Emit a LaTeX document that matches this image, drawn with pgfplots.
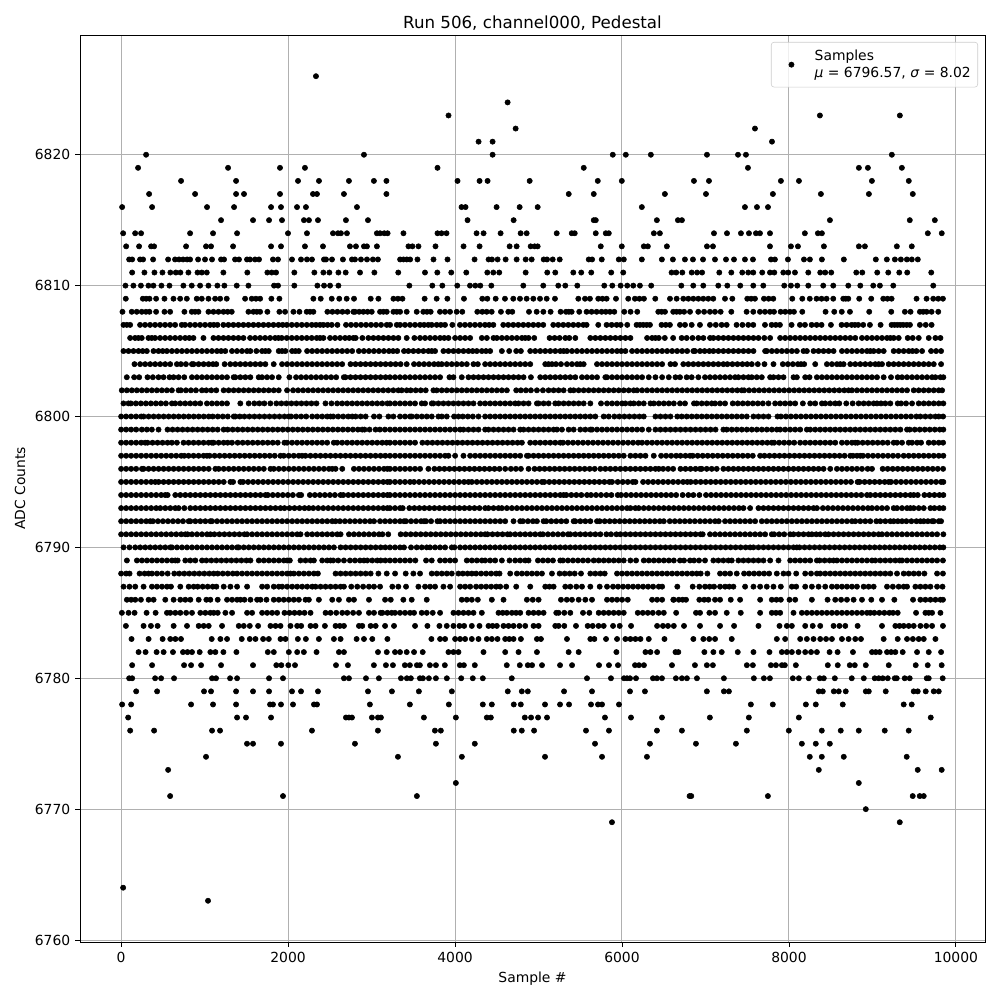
\documentclass[border=0pt]{standalone}
\usepackage{fontspec}
\setmainfont{DejaVu Sans}
\usepackage{pgfplots}
\pgfplotsset{compat=1.18}
\begin{document}
\begin{tikzpicture}
\fontsize{10bp}{12bp}\selectfont
\path[use as bounding box] (0,0) rectangle (10in,10in);
\begin{axis}[
 at={(0.80in,0.58in)},anchor=south west,scale only axis,width=9.05in,height=9.07in,
 xmin=-492.8,xmax=10349,ymin=6759.85,ymax=6829.15,
 xtick={0,2000,4000,6000,8000,10000},ytick={6760,6770,6780,6790,6800,6810,6820},
 /pgf/number format/assume math mode=true,
 /pgf/number format/1000 sep={},
 x tick label style={/pgf/number format/1000 sep={}},
 y tick label style={/pgf/number format/1000 sep={}},
 scaled ticks=false,
 tick label style={font=\fontsize{10bp}{12bp}\selectfont},
 label style={font=\fontsize{10bp}{12bp}\selectfont},
 tick pos=left,tick align=outside,major tick length=3.5bp,
 tick style={black,line width=0.6bp},
 axis line style={line width=0.6bp},
 grid=major,grid style={color=black!31,line width=0.7bp},
 title={Run 506, channel000, Pedestal},
 title style={font=\fontsize{12bp}{14bp}\selectfont,yshift=-6pt},
 xlabel={Sample \#},ylabel={ADC Counts},
 legend image code/.code={\path (0,0) (26pt,0);\fill[black,fill opacity=1] (11.4pt,0) circle (1.9pt);},
 legend style={at={(1,1)},anchor=north east,xshift=-0.07in,yshift=-0.07in,inner ysep=3.6pt,
  draw=black!20,rounded corners=2pt,fill=white,fill opacity=0.8,text opacity=1,
  nodes={align=left},font=\fontsize{10bp}{12bp}\selectfont},
 legend cell align=left,
]
\addplot[only marks,mark=*,mark size=1.9pt,mark options={draw=none,fill=black}] table {
x y
1041 6763
24 6764
5880 6769
9328 6769
8921 6770
587 6771
1939 6771
3543 6771
6810 6771
6830 6771
7748 6771
9483 6771
9567 6771
9615 6771
4010 6772
8837 6772
563 6773
8358 6773
9543 6773
9830 6773
1017 6774
3316 6774
4082 6774
5078 6774
5761 6774
6299 6774
8250 6774
8394 6774
8657 6774
9411 6774
1508 6775
1580 6775
1915 6775
2801 6775
3771 6775
4237 6775
5677 6775
6335 6775
6886 6775
7365 6775
8155 6775
8322 6775
8490 6775
108 6776
395 6776
1089 6776
1185 6776
2286 6776
3076 6776
3759 6776
3830 6776
4704 6776
4800 6776
4947 6776
5569 6776
5844 6776
6419 6776
6718 6776
7496 6776
7999 6776
8394 6776
8621 6776
8837 6776
9148 6776
9435 6776
84 6777
1389 6777
1496 6777
1796 6777
2693 6777
2729 6777
2765 6777
3004 6777
3076 6777
3112 6777
3627 6777
4010 6777
4381 6777
4429 6777
4836 6777
4911 6777
4995 6777
5102 6777
5796 6777
6108 6777
6479 6777
7053 6777
7520 6777
8119 6777
9699 6777
12 6778
120 6778
838 6778
1101 6778
1377 6778
1784 6778
1819 6778
1915 6778
2059 6778
2310 6778
2346 6778
2980 6778
3459 6778
3926 6778
4333 6778
4441 6778
4704 6778
4788 6778
5078 6778
5258 6778
5366 6778
5629 6778
5713 6778
5761 6778
5964 6778
7544 6778
7807 6778
8203 6778
8322 6778
8645 6778
9375 6778
9471 6778
180 6779
431 6779
993 6779
1077 6779
1377 6779
1580 6779
1772 6779
2047 6779
2155 6779
2358 6779
2957 6779
3244 6779
3567 6779
3962 6779
4632 6779
4800 6779
4872 6779
5306 6779
5641 6779
6096 6779
6275 6779
7017 6779
7221 6779
7281 6779
8358 6779
8406 6779
8538 6779
8597 6779
8681 6779
8921 6779
8957 6779
9160 6779
9495 6779
9543 6779
9639 6779
9735 6779
9795 6779
96 6780
132 6780
407 6780
479 6780
634 6780
1089 6780
1137 6780
1305 6780
1389 6780
1772 6780
1939 6780
2669 6780
2729 6780
2933 6780
3088 6780
3352 6780
3423 6780
3471 6780
3579 6780
3615 6780
3687 6780
3771 6780
3902 6780
4074 6780
4213 6780
4333 6780
4680 6780
5581 6780
5868 6780
6024 6780
6060 6780
6096 6780
6168 6780
6371 6780
6419 6780
6479 6780
6646 6780
6718 6780
6778 6780
6898 6780
7221 6780
7580 6780
7700 6780
7772 6780
8047 6780
8119 6780
8238 6780
8370 6780
8418 6780
8550 6780
8753 6780
8897 6780
9028 6780
9076 6780
9124 6780
9184 6780
9268 6780
9292 6780
9387 6780
9447 6780
9651 6780
9675 6780
9842 6780
132 6781
371 6781
754 6781
838 6781
958 6781
1197 6781
1580 6781
1859 6781
1919 6781
2003 6781
2083 6781
2574 6781
2717 6781
3028 6781
3172 6781
3256 6781
3399 6781
3459 6781
3543 6781
3579 6781
3699 6781
3771 6781
3878 6781
4058 6781
4106 6781
4237 6781
4620 6781
4776 6781
4872 6781
4923 6781
5042 6781
5258 6781
5402 6781
5725 6781
5844 6781
5952 6781
6156 6781
6204 6781
6263 6781
6599 6781
6874 6781
7017 6781
7089 6781
7496 6781
7568 6781
7784 6781
7844 6781
7916 6781
7951 6781
8083 6781
8466 6781
8585 6781
8729 6781
8789 6781
8921 6781
9196 6781
9519 6781
9663 6781
9830 6781
209 6782
293 6782
425 6782
509 6782
621 6782
741 6782
795 6782
849 6782
941 6782
1069 6782
1129 6782
1225 6782
1381 6782
1757 6782
1829 6782
2009 6782
2109 6782
2189 6782
2341 6782
2609 6782
2669 6782
3077 6782
3182 6782
3281 6782
3341 6782
3421 6782
3509 6782
3613 6782
3921 6782
3981 6782
4041 6782
4341 6782
4601 6782
4761 6782
4981 6782
5361 6782
5481 6782
5933 6782
6281 6782
6341 6782
6421 6782
6641 6782
6675 6782
6987 6782
7095 6782
7195 6782
7387 6782
7575 6782
7767 6782
7915 6782
7975 6782
8035 6782
8115 6782
8195 6782
8265 6782
8335 6782
8487 6782
8583 6782
8767 6782
8995 6782
9040 6782
9087 6782
9175 6782
9225 6782
9275 6782
9363 6782
9535 6782
9675 6782
9823 6782
125 6783
329 6783
497 6783
589 6783
650 6783
717 6783
1085 6783
1189 6783
1269 6783
1445 6783
1541 6783
1609 6783
1701 6783
1769 6783
1909 6783
1969 6783
2117 6783
2213 6783
2369 6783
2549 6783
2629 6783
2821 6783
2909 6783
3009 6783
3190 6783
3717 6783
3821 6783
3881 6783
4001 6783
4061 6783
4121 6783
4201 6783
4281 6783
4381 6783
4441 6783
4509 6783
4601 6783
4650 6783
4701 6783
4789 6783
4981 6783
5029 6783
5341 6783
5621 6783
5669 6783
5809 6783
5941 6783
6041 6783
6101 6783
6161 6783
6221 6783
6321 6783
6509 6783
6855 6783
6975 6783
7045 6783
7115 6783
7315 6783
7855 6783
7955 6783
8135 6783
8215 6783
8295 6783
8375 6783
8445 6783
8515 6783
8635 6783
8715 6783
8795 6783
8863 6783
9135 6783
9303 6783
9415 6783
9485 6783
9555 6783
9615 6783
9755 6783
57 6784
269 6784
357 6784
437 6784
629 6784
789 6784
929 6784
989 6784
1049 6784
1209 6784
1409 6784
1469 6784
1541 6784
1641 6784
1789 6784
1850 6784
1909 6784
2029 6784
2109 6784
2157 6784
2269 6784
2329 6784
2441 6784
2569 6784
2620 6784
2669 6784
2849 6784
2889 6784
2989 6784
3049 6784
3162 6784
3269 6784
3521 6784
3669 6784
3813 6784
3901 6784
3981 6784
4053 6784
4109 6784
4201 6784
4293 6784
4401 6784
4450 6784
4501 6784
4581 6784
4641 6784
4701 6784
4771 6784
4841 6784
4941 6784
5001 6784
5201 6784
5241 6784
5309 6784
5449 6784
5589 6784
5649 6784
5719 6784
5781 6784
5893 6784
5973 6784
6109 6784
6421 6784
6491 6784
6551 6784
6621 6784
6743 6784
6935 6784
7175 6784
7343 6784
7635 6784
7887 6784
7975 6784
8035 6784
8195 6784
8285 6784
8375 6784
8535 6784
8605 6784
8675 6784
8823 6784
9115 6784
9275 6784
9325 6784
9375 6784
9435 6784
9495 6784
9575 6784
9645 6784
9715 6784
9845 6784
9 6785
89 6785
161 6785
305 6785
413 6785
549 6785
589 6785
649 6785
709 6785
779 6785
849 6785
949 6785
1009 6785
1069 6785
1109 6785
1157 6785
1249 6785
1329 6785
1509 6785
1569 6785
1689 6785
1749 6785
1809 6785
1869 6785
1957 6785
2017 6785
2077 6785
2137 6785
2197 6785
2269 6785
2449 6785
2509 6785
2577 6785
2649 6785
2709 6785
2779 6785
2849 6785
2969 6785
3029 6785
3109 6785
3130 6785
3190 6785
3241 6785
3281 6785
3341 6785
3401 6785
3461 6785
3509 6785
3601 6785
3661 6785
3733 6785
3821 6785
3981 6785
4041 6785
4101 6785
4161 6785
4221 6785
4321 6785
4521 6785
4571 6785
4621 6785
4681 6785
4731 6785
4781 6785
4881 6785
4941 6785
5001 6785
5061 6785
5213 6785
5241 6785
5309 6785
5381 6785
5533 6785
5609 6785
5721 6785
5781 6785
5841 6785
5901 6785
5961 6785
6021 6785
6189 6785
6249 6785
6309 6785
6369 6785
6439 6785
6501 6785
6649 6785
6887 6785
6935 6785
7047 6785
7115 6785
7255 6785
7423 6785
7655 6785
7795 6785
7845 6785
7895 6785
8055 6785
8155 6785
8215 6785
8275 6785
8335 6785
8395 6785
8455 6785
8515 6785
8575 6785
8635 6785
8695 6785
8755 6785
8815 6785
8875 6785
8935 6785
8975 6785
9023 6785
9083 6785
9143 6785
9203 6785
9247 6785
9303 6785
9523 6785
9635 6785
9675 6785
9715 6785
9815 6785
69 6786
120 6786
169 6786
237 6786
329 6786
389 6786
529 6786
629 6786
709 6786
769 6786
829 6786
929 6786
1021 6786
1069 6786
1157 6786
1269 6786
1329 6786
1389 6786
1429 6786
1477 6786
1549 6786
1629 6786
1669 6786
1741 6786
1829 6786
1889 6786
1949 6786
2009 6786
2069 6786
2129 6786
2209 6786
2249 6786
2369 6786
2529 6786
2609 6786
2729 6786
2789 6786
2969 6786
3162 6786
3230 6786
3381 6786
3481 6786
3661 6786
4081 6786
4141 6786
4201 6786
4273 6786
4441 6786
4581 6786
4861 6786
4931 6786
5001 6786
5269 6786
5339 6786
5401 6786
5481 6786
5561 6786
5641 6786
5821 6786
5881 6786
5941 6786
6001 6786
6069 6786
6361 6786
6421 6786
6481 6786
6621 6786
6681 6786
6615 6786
6727 6786
6767 6786
6927 6786
6985 6786
7035 6786
7115 6786
7175 6786
7303 6786
7415 6786
7655 6786
7795 6786
7850 6786
7903 6786
8007 6786
8075 6786
8275 6786
8463 6786
8555 6786
8625 6786
8695 6786
8775 6786
8875 6786
8987 6786
9115 6786
9263 6786
9487 6786
9575 6786
9635 6786
9695 6786
9755 6786
9815 6786
9845 6786
29 6787
100 6787
169 6787
269 6787
369 6787
429 6787
489 6787
549 6787
597 6787
709 6787
809 6787
869 6787
917 6787
977 6787
1037 6787
1097 6787
1141 6787
1229 6787
1309 6787
1389 6787
1509 6787
1689 6787
1749 6787
1829 6787
1889 6787
1929 6787
1989 6787
2049 6787
2109 6787
2169 6787
2229 6787
2289 6787
2329 6787
2389 6787
2449 6787
2509 6787
2569 6787
2629 6787
2669 6787
2757 6787
2829 6787
2899 6787
2969 6787
3029 6787
3102 6787
3249 6787
3321 6787
3413 6787
3561 6787
3641 6787
3701 6787
3761 6787
3861 6787
3941 6787
4061 6787
4121 6787
4181 6787
4253 6787
4313 6787
4373 6787
4433 6787
4493 6787
4541 6787
4613 6787
4733 6787
4901 6787
5081 6787
5131 6787
5181 6787
5321 6787
5381 6787
5453 6787
5521 6787
5621 6787
5733 6787
5821 6787
5893 6787
5953 6787
6013 6787
6073 6787
6133 6787
6193 6787
6253 6787
6313 6787
6373 6787
6441 6787
6481 6787
6663 6787
6847 6787
6927 6787
6995 6787
7050 6787
7103 6787
7175 6787
7235 6787
7285 6787
7335 6787
7475 6787
7575 6787
7655 6787
7735 6787
7815 6787
7903 6787
8035 6787
8087 6787
8195 6787
8275 6787
8355 6787
8435 6787
8515 6787
8575 6787
8635 6787
8695 6787
8755 6787
8815 6787
8895 6787
8955 6787
9015 6787
9175 6787
9245 6787
9315 6787
9375 6787
9415 6787
9515 6787
9575 6787
9635 6787
9695 6787
9775 6787
9840 6787
0 6788
60 6788
101 6788
221 6788
281 6788
329 6788
369 6788
429 6788
489 6788
557 6788
637 6788
697 6788
757 6788
817 6788
877 6788
937 6788
997 6788
1057 6788
1109 6788
1157 6788
1217 6788
1277 6788
1337 6788
1389 6788
1449 6788
1509 6788
1569 6788
1629 6788
1689 6788
1749 6788
1809 6788
1869 6788
1929 6788
1989 6788
2029 6788
2069 6788
2129 6788
2189 6788
2249 6788
2309 6788
2357 6788
2569 6788
2629 6788
2689 6788
2749 6788
2809 6788
2869 6788
2929 6788
2989 6788
3082 6788
3182 6788
3282 6788
3409 6788
3501 6788
3581 6788
3721 6788
3781 6788
3841 6788
3901 6788
3961 6788
4041 6788
4093 6788
4150 6788
4201 6788
4253 6788
4313 6788
4373 6788
4433 6788
4493 6788
4533 6788
4661 6788
4741 6788
4801 6788
4861 6788
4921 6788
4981 6788
5041 6788
5161 6788
5253 6788
5313 6788
5373 6788
5433 6788
5509 6788
5621 6788
5681 6788
5741 6788
5793 6788
5941 6788
6001 6788
6061 6788
6121 6788
6181 6788
6241 6788
6301 6788
6361 6788
6421 6788
6481 6788
6541 6788
6601 6788
6661 6788
6721 6788
6781 6788
6841 6788
6895 6788
6943 6788
7023 6788
7175 6788
7235 6788
7295 6788
7375 6788
7463 6788
7523 6788
7583 6788
7643 6788
7703 6788
7763 6788
7855 6788
7935 6788
7995 6788
8087 6788
8195 6788
8265 6788
8335 6788
8375 6788
8435 6788
8495 6788
8555 6788
8615 6788
8675 6788
8735 6788
8795 6788
8855 6788
8915 6788
8975 6788
9035 6788
9095 6788
9155 6788
9215 6788
9295 6788
9375 6788
9435 6788
9495 6788
9555 6788
9623 6788
9775 6788
9845 6788
69 6789
189 6789
249 6789
309 6789
369 6789
429 6789
489 6789
549 6789
609 6789
649 6789
677 6789
769 6789
829 6789
889 6789
969 6789
1021 6789
1081 6789
1141 6789
1201 6789
1261 6789
1321 6789
1381 6789
1441 6789
1501 6789
1549 6789
1649 6789
1709 6789
1769 6789
1829 6789
1889 6789
1949 6789
1989 6789
2021 6789
2149 6789
2209 6789
2269 6789
2309 6789
2409 6789
2469 6789
2509 6789
2541 6789
2601 6789
2669 6789
2741 6789
2801 6789
2861 6789
2909 6789
2949 6789
3009 6789
3069 6789
3109 6789
3165 6789
3221 6789
3281 6789
3341 6789
3401 6789
3461 6789
3525 6789
3653 6789
3721 6789
3821 6789
3881 6789
3941 6789
4001 6789
4141 6789
4201 6789
4261 6789
4321 6789
4361 6789
4421 6789
4481 6789
4561 6789
4653 6789
4721 6789
4781 6789
4841 6789
4881 6789
4993 6789
5053 6789
5113 6789
5173 6789
5261 6789
5293 6789
5353 6789
5413 6789
5473 6789
5533 6789
5593 6789
5661 6789
5721 6789
5781 6789
5841 6789
5901 6789
5961 6789
6021 6789
6101 6789
6169 6789
6261 6789
6321 6789
6381 6789
6441 6789
6501 6789
6561 6789
6621 6789
6695 6789
6743 6789
6815 6789
6863 6789
6923 6789
6995 6789
7095 6789
7155 6789
7215 6789
7275 6789
7315 6789
7395 6789
7455 6789
7515 6789
7575 6789
7635 6789
7695 6789
7775 6789
7875 6789
8015 6789
8075 6789
8135 6789
8195 6789
8255 6789
8335 6789
8367 6789
8427 6789
8487 6789
8535 6789
8575 6789
8635 6789
8695 6789
8755 6789
8815 6789
8875 6789
8935 6789
8995 6789
9035 6789
9095 6789
9155 6789
9215 6789
9275 6789
9327 6789
9355 6789
9415 6789
9475 6789
9535 6789
9595 6789
9655 6789
9715 6789
9775 6789
9845 6789
29 6790
100 6790
169 6790
229 6790
289 6790
349 6790
409 6790
469 6790
529 6790
589 6790
609 6790
669 6790
729 6790
789 6790
849 6790
909 6790
969 6790
1029 6790
1089 6790
1149 6790
1209 6790
1269 6790
1329 6790
1389 6790
1409 6790
1469 6790
1529 6790
1589 6790
1649 6790
1709 6790
1769 6790
1829 6790
1889 6790
1949 6790
2009 6790
2069 6790
2129 6790
2189 6790
2249 6790
2309 6790
2369 6790
2429 6790
2489 6790
2549 6790
2629 6790
2689 6790
2749 6790
2809 6790
2869 6790
2929 6790
2989 6790
3049 6790
3109 6790
3165 6790
3221 6790
3281 6790
3341 6790
3389 6790
3473 6790
3541 6790
3601 6790
3661 6790
3701 6790
3761 6790
3821 6790
3881 6790
3961 6790
3993 6790
4061 6790
4121 6790
4181 6790
4241 6790
4301 6790
4361 6790
4421 6790
4481 6790
4541 6790
4601 6790
4661 6790
4721 6790
4781 6790
4841 6790
4901 6790
4961 6790
5021 6790
5081 6790
5141 6790
5201 6790
5261 6790
5321 6790
5381 6790
5441 6790
5501 6790
5561 6790
5621 6790
5681 6790
5741 6790
5801 6790
5861 6790
5921 6790
5981 6790
6041 6790
6101 6790
6161 6790
6221 6790
6281 6790
6341 6790
6401 6790
6461 6790
6521 6790
6581 6790
6641 6790
6701 6790
6761 6790
6821 6790
6881 6790
6941 6790
7001 6790
7061 6790
7121 6790
7181 6790
7241 6790
7301 6790
7361 6790
7421 6790
7481 6790
7535 6790
7575 6790
7635 6790
7695 6790
7755 6790
7815 6790
7875 6790
7935 6790
7995 6790
8055 6790
8095 6790
8127 6790
8187 6790
8247 6790
8307 6790
8367 6790
8427 6790
8487 6790
8547 6790
8607 6790
8667 6790
8727 6790
8787 6790
8847 6790
8907 6790
8967 6790
9027 6790
9087 6790
9147 6790
9207 6790
9267 6790
9327 6790
9387 6790
9447 6790
9507 6790
9567 6790
9627 6790
9687 6790
9747 6790
9807 6790
9850 6790
0 6791
60 6791
120 6791
180 6791
240 6791
300 6791
360 6791
420 6791
480 6791
540 6791
600 6791
660 6791
720 6791
769 6791
797 6791
849 6791
909 6791
969 6791
1029 6791
1069 6791
1117 6791
1177 6791
1237 6791
1297 6791
1357 6791
1417 6791
1477 6791
1509 6791
1569 6791
1629 6791
1689 6791
1749 6791
1809 6791
1869 6791
1929 6791
1989 6791
2049 6791
2109 6791
2149 6791
2229 6791
2289 6791
2349 6791
2409 6791
2469 6791
2529 6791
2589 6791
2629 6791
2729 6791
2789 6791
2849 6791
2909 6791
2969 6791
3029 6791
3089 6791
3130 6791
3200 6791
3349 6791
3409 6791
3469 6791
3529 6791
3589 6791
3649 6791
3709 6791
3769 6791
3829 6791
3889 6791
3949 6791
4009 6791
4069 6791
4129 6791
4189 6791
4249 6791
4309 6791
4361 6791
4389 6791
4449 6791
4509 6791
4569 6791
4629 6791
4661 6791
4721 6791
4781 6791
4841 6791
4901 6791
4961 6791
5021 6791
5053 6791
5113 6791
5173 6791
5233 6791
5293 6791
5353 6791
5381 6791
5441 6791
5501 6791
5561 6791
5621 6791
5681 6791
5741 6791
5813 6791
5869 6791
5933 6791
5981 6791
6041 6791
6101 6791
6161 6791
6221 6791
6281 6791
6341 6791
6401 6791
6461 6791
6521 6791
6581 6791
6641 6791
6701 6791
6761 6791
6821 6791
6881 6791
6941 6791
6967 6791
7055 6791
7115 6791
7175 6791
7235 6791
7295 6791
7355 6791
7415 6791
7475 6791
7535 6791
7595 6791
7655 6791
7715 6791
7795 6791
7823 6791
7883 6791
7943 6791
8015 6791
8055 6791
8115 6791
8175 6791
8235 6791
8275 6791
8327 6791
8375 6791
8435 6791
8475 6791
8535 6791
8595 6791
8655 6791
8715 6791
8775 6791
8835 6791
8895 6791
8955 6791
9015 6791
9075 6791
9115 6791
9175 6791
9235 6791
9295 6791
9355 6791
9415 6791
9475 6791
9535 6791
9595 6791
9655 6791
9715 6791
9775 6791
9850 6791
0 6792
60 6792
120 6792
180 6792
240 6792
300 6792
349 6792
381 6792
441 6792
501 6792
561 6792
621 6792
681 6792
741 6792
809 6792
829 6792
889 6792
949 6792
1009 6792
1069 6792
1089 6792
1149 6792
1209 6792
1269 6792
1329 6792
1389 6792
1449 6792
1509 6792
1569 6792
1629 6792
1689 6792
1749 6792
1809 6792
1869 6792
1929 6792
1989 6792
2049 6792
2109 6792
2169 6792
2229 6792
2289 6792
2349 6792
2409 6792
2469 6792
2529 6792
2569 6792
2621 6792
2681 6792
2741 6792
2801 6792
2861 6792
2921 6792
2981 6792
3029 6792
3102 6792
3162 6792
3221 6792
3281 6792
3341 6792
3389 6792
3413 6792
3473 6792
3533 6792
3593 6792
3629 6792
3653 6792
3713 6792
3789 6792
3821 6792
3881 6792
3941 6792
4001 6792
4061 6792
4121 6792
4181 6792
4241 6792
4301 6792
4361 6792
4421 6792
4481 6792
4541 6792
4601 6792
4701 6792
4781 6792
4813 6792
4873 6792
4933 6792
4981 6792
5061 6792
5093 6792
5153 6792
5213 6792
5273 6792
5333 6792
5421 6792
5441 6792
5501 6792
5561 6792
5621 6792
5701 6792
5733 6792
5793 6792
5853 6792
5913 6792
5973 6792
6033 6792
6093 6792
6153 6792
6213 6792
6273 6792
6333 6792
6393 6792
6453 6792
6501 6792
6573 6792
6633 6792
6693 6792
6753 6792
6813 6792
6873 6792
6935 6792
6995 6792
7055 6792
7115 6792
7159 6792
7235 6792
7295 6792
7355 6792
7415 6792
7475 6792
7535 6792
7595 6792
7675 6792
7735 6792
7795 6792
7855 6792
7915 6792
7975 6792
8035 6792
8095 6792
8155 6792
8215 6792
8275 6792
8335 6792
8395 6792
8455 6792
8515 6792
8575 6792
8635 6792
8695 6792
8755 6792
8795 6792
8855 6792
8915 6792
8975 6792
9047 6792
9095 6792
9155 6792
9215 6792
9255 6792
9305 6792
9355 6792
9407 6792
9467 6792
9527 6792
9575 6792
9615 6792
9665 6792
9715 6792
9735 6792
9795 6792
9823 6792
0 6793
60 6793
120 6793
180 6793
240 6793
300 6793
360 6793
420 6793
469 6793
529 6793
589 6793
649 6793
689 6793
757 6793
829 6793
889 6793
949 6793
1009 6793
1069 6793
1129 6793
1189 6793
1249 6793
1309 6793
1369 6793
1429 6793
1489 6793
1549 6793
1609 6793
1669 6793
1729 6793
1789 6793
1849 6793
1909 6793
1957 6793
2017 6793
2077 6793
2137 6793
2197 6793
2249 6793
2301 6793
2361 6793
2421 6793
2481 6793
2541 6793
2601 6793
2661 6793
2721 6793
2781 6793
2841 6793
2901 6793
2961 6793
3021 6793
3081 6793
3141 6793
3190 6793
3221 6793
3281 6793
3341 6793
3373 6793
3453 6793
3513 6793
3573 6793
3633 6793
3693 6793
3753 6793
3813 6793
3873 6793
3933 6793
3993 6793
4053 6793
4113 6793
4173 6793
4233 6793
4293 6793
4361 6793
4401 6793
4461 6793
4521 6793
4561 6793
4621 6793
4681 6793
4741 6793
4801 6793
4861 6793
4921 6793
4981 6793
5041 6793
5101 6793
5161 6793
5221 6793
5281 6793
5341 6793
5401 6793
5461 6793
5521 6793
5581 6793
5641 6793
5701 6793
5761 6793
5821 6793
5881 6793
5941 6793
6001 6793
6061 6793
6101 6793
6161 6793
6201 6793
6261 6793
6321 6793
6381 6793
6441 6793
6501 6793
6561 6793
6621 6793
6681 6793
6741 6793
6801 6793
6861 6793
6921 6793
6981 6793
7041 6793
7101 6793
7161 6793
7221 6793
7281 6793
7341 6793
7401 6793
7455 6793
7535 6793
7635 6793
7695 6793
7755 6793
7815 6793
7875 6793
7935 6793
7995 6793
8055 6793
8115 6793
8175 6793
8235 6793
8295 6793
8335 6793
8407 6793
8467 6793
8527 6793
8587 6793
8647 6793
8707 6793
8767 6793
8827 6793
8887 6793
8947 6793
8995 6793
9055 6793
9115 6793
9175 6793
9255 6793
9295 6793
9355 6793
9415 6793
9455 6793
9495 6793
9555 6793
9615 6793
9695 6793
9743 6793
9803 6793
9850 6793
0 6794
60 6794
120 6794
180 6794
240 6794
300 6794
360 6794
420 6794
480 6794
529 6794
557 6794
649 6794
709 6794
769 6794
829 6794
889 6794
949 6794
1009 6794
1069 6794
1129 6794
1189 6794
1249 6794
1309 6794
1369 6794
1429 6794
1489 6794
1549 6794
1609 6794
1669 6794
1729 6794
1757 6794
1817 6794
1877 6794
1937 6794
1997 6794
2057 6794
2129 6794
2157 6794
2261 6794
2321 6794
2381 6794
2441 6794
2501 6794
2561 6794
2629 6794
2661 6794
2721 6794
2781 6794
2841 6794
2901 6794
2961 6794
3021 6794
3081 6794
3141 6794
3190 6794
3221 6794
3281 6794
3341 6794
3401 6794
3461 6794
3521 6794
3581 6794
3641 6794
3701 6794
3761 6794
3821 6794
3881 6794
3941 6794
4001 6794
4061 6794
4121 6794
4181 6794
4241 6794
4301 6794
4361 6794
4421 6794
4481 6794
4541 6794
4601 6794
4661 6794
4721 6794
4781 6794
4841 6794
4901 6794
4961 6794
5021 6794
5081 6794
5141 6794
5201 6794
5261 6794
5301 6794
5333 6794
5393 6794
5453 6794
5513 6794
5581 6794
5629 6794
5689 6794
5749 6794
5813 6794
5873 6794
5949 6794
5989 6794
6049 6794
6109 6794
6169 6794
6229 6794
6289 6794
6349 6794
6409 6794
6469 6794
6529 6794
6589 6794
6649 6794
6727 6794
6795 6794
6855 6794
6927 6794
7007 6794
7067 6794
7127 6794
7187 6794
7247 6794
7307 6794
7367 6794
7427 6794
7487 6794
7547 6794
7607 6794
7667 6794
7727 6794
7787 6794
7847 6794
7907 6794
7967 6794
8027 6794
8087 6794
8147 6794
8207 6794
8267 6794
8327 6794
8387 6794
8447 6794
8507 6794
8567 6794
8627 6794
8687 6794
8747 6794
8807 6794
8867 6794
8935 6794
8975 6794
9035 6794
9095 6794
9155 6794
9215 6794
9275 6794
9335 6794
9395 6794
9455 6794
9495 6794
9543 6794
9623 6794
9683 6794
9743 6794
9803 6794
9850 6794
0 6795
60 6795
120 6795
180 6795
240 6795
300 6795
360 6795
409 6795
449 6795
509 6795
569 6795
629 6795
689 6795
749 6795
809 6795
869 6795
929 6795
989 6795
1049 6795
1109 6795
1169 6795
1229 6795
1309 6795
1341 6795
1429 6795
1461 6795
1521 6795
1581 6795
1641 6795
1701 6795
1761 6795
1821 6795
1881 6795
1941 6795
2001 6795
2061 6795
2121 6795
2181 6795
2241 6795
2301 6795
2361 6795
2421 6795
2481 6795
2541 6795
2601 6795
2661 6795
2721 6795
2781 6795
2841 6795
2901 6795
2961 6795
3021 6795
3081 6795
3141 6795
3190 6795
3221 6795
3281 6795
3341 6795
3401 6795
3461 6795
3509 6795
3569 6795
3629 6795
3689 6795
3749 6795
3809 6795
3869 6795
3929 6795
3989 6795
4049 6795
4109 6795
4161 6795
4201 6795
4261 6795
4321 6795
4381 6795
4441 6795
4501 6795
4561 6795
4621 6795
4681 6795
4741 6795
4801 6795
4861 6795
4921 6795
4981 6795
5041 6795
5069 6795
5129 6795
5189 6795
5249 6795
5309 6795
5369 6795
5429 6795
5489 6795
5549 6795
5609 6795
5669 6795
5729 6795
5789 6795
5849 6795
5881 6795
5949 6795
6009 6795
6069 6795
6129 6795
6161 6795
6253 6795
6313 6795
6373 6795
6433 6795
6493 6795
6553 6795
6613 6795
6673 6795
6733 6795
6783 6795
6823 6795
6883 6795
6943 6795
7003 6795
7063 6795
7123 6795
7183 6795
7243 6795
7303 6795
7363 6795
7423 6795
7483 6795
7543 6795
7603 6795
7663 6795
7723 6795
7783 6795
7843 6795
7903 6795
7963 6795
8023 6795
8083 6795
8143 6795
8203 6795
8263 6795
8323 6795
8383 6795
8443 6795
8503 6795
8563 6795
8623 6795
8683 6795
8743 6795
8823 6795
8847 6795
8907 6795
8967 6795
9027 6795
9087 6795
9147 6795
9195 6795
9223 6795
9283 6795
9343 6795
9403 6795
9463 6795
9523 6795
9583 6795
9643 6795
9703 6795
9763 6795
9823 6795
9850 6795
0 6796
60 6796
120 6796
180 6796
249 6796
269 6796
329 6796
389 6796
449 6796
509 6796
569 6796
629 6796
689 6796
749 6796
809 6796
869 6796
929 6796
989 6796
1049 6796
1129 6796
1169 6796
1229 6796
1289 6796
1349 6796
1409 6796
1469 6796
1529 6796
1589 6796
1649 6796
1709 6796
1789 6796
1829 6796
1889 6796
1949 6796
2009 6796
2069 6796
2129 6796
2189 6796
2249 6796
2309 6796
2369 6796
2429 6796
2489 6796
2529 6796
2569 6796
2649 6796
2789 6796
2849 6796
2909 6796
2969 6796
3029 6796
3089 6796
3149 6796
3190 6796
3221 6796
3281 6796
3341 6796
3401 6796
3461 6796
3521 6796
3581 6796
3681 6796
3753 6796
3813 6796
3873 6796
3933 6796
3993 6796
4053 6796
4113 6796
4173 6796
4233 6796
4293 6796
4353 6796
4413 6796
4473 6796
4533 6796
4601 6796
4669 6796
4729 6796
4789 6796
4881 6796
4953 6796
5013 6796
5073 6796
5133 6796
5193 6796
5253 6796
5313 6796
5373 6796
5433 6796
5493 6796
5553 6796
5613 6796
5673 6796
5741 6796
5801 6796
5861 6796
5921 6796
5981 6796
6041 6796
6101 6796
6161 6796
6221 6796
6281 6796
6341 6796
6401 6796
6441 6796
6493 6796
6553 6796
6613 6796
6701 6796
6761 6796
6821 6796
6881 6796
6935 6796
6955 6796
7015 6796
7075 6796
7135 6796
7215 6796
7275 6796
7335 6796
7395 6796
7455 6796
7515 6796
7575 6796
7635 6796
7695 6796
7755 6796
7815 6796
7875 6796
7935 6796
7995 6796
8055 6796
8115 6796
8175 6796
8235 6796
8295 6796
8355 6796
8415 6796
8495 6796
8575 6796
8635 6796
8695 6796
8755 6796
8815 6796
8875 6796
8943 6796
8995 6796
9123 6796
9183 6796
9243 6796
9303 6796
9363 6796
9423 6796
9483 6796
9543 6796
9603 6796
9663 6796
9723 6796
9783 6796
9847 6796
0 6797
60 6797
120 6797
180 6797
240 6797
300 6797
360 6797
420 6797
480 6797
540 6797
600 6797
660 6797
720 6797
756 6797
808 6797
868 6797
928 6797
988 6797
1028 6797
1060 6797
1120 6797
1180 6797
1240 6797
1300 6797
1360 6797
1420 6797
1480 6797
1540 6797
1600 6797
1660 6797
1720 6797
1780 6797
1840 6797
1908 6797
1948 6797
2008 6797
2068 6797
2128 6797
2168 6797
2208 6797
2268 6797
2328 6797
2388 6797
2448 6797
2508 6797
2568 6797
2628 6797
2688 6797
2748 6797
2808 6797
2868 6797
2928 6797
2988 6797
3048 6797
3108 6797
3165 6797
3221 6797
3281 6797
3341 6797
3401 6797
3461 6797
3521 6797
3581 6797
3641 6797
3701 6797
3761 6797
3821 6797
3881 6797
3921 6797
4001 6797
4101 6797
4181 6797
4241 6797
4301 6797
4361 6797
4421 6797
4481 6797
4541 6797
4601 6797
4661 6797
4721 6797
4781 6797
4861 6797
4881 6797
4941 6797
5001 6797
5061 6797
5121 6797
5181 6797
5241 6797
5301 6797
5361 6797
5421 6797
5481 6797
5541 6797
5601 6797
5661 6797
5721 6797
5781 6797
5841 6797
5901 6797
5961 6797
6021 6797
6101 6797
6161 6797
6221 6797
6281 6797
6381 6797
6469 6797
6529 6797
6589 6797
6649 6797
6701 6797
6761 6797
6815 6797
6847 6797
6907 6797
6967 6797
7027 6797
7087 6797
7147 6797
7207 6797
7267 6797
7327 6797
7387 6797
7447 6797
7507 6797
7567 6797
7655 6797
7707 6797
7767 6797
7827 6797
7887 6797
7947 6797
8007 6797
8067 6797
8127 6797
8187 6797
8247 6797
8307 6797
8367 6797
8427 6797
8487 6797
8547 6797
8607 6797
8667 6797
8735 6797
8767 6797
8815 6797
8855 6797
8887 6797
8947 6797
9007 6797
9067 6797
9127 6797
9187 6797
9247 6797
9307 6797
9375 6797
9435 6797
9495 6797
9555 6797
9615 6797
9675 6797
9735 6797
9795 6797
9850 6797
0 6798
60 6798
120 6798
180 6798
240 6798
288 6798
316 6798
376 6798
436 6798
496 6798
556 6798
608 6798
668 6798
748 6798
808 6798
868 6798
928 6798
988 6798
1048 6798
1088 6798
1108 6798
1168 6798
1228 6798
1276 6798
1328 6798
1396 6798
1456 6798
1516 6798
1576 6798
1636 6798
1696 6798
1756 6798
1816 6798
1876 6798
1956 6798
1988 6798
2048 6798
2108 6798
2168 6798
2228 6798
2288 6798
2348 6798
2408 6798
2468 6798
2548 6798
2588 6798
2648 6798
2708 6798
2768 6798
2828 6798
2888 6798
2948 6798
3008 6798
3068 6798
3128 6798
3180 6798
3221 6798
3281 6798
3341 6798
3401 6798
3461 6798
3521 6798
3609 6798
3669 6798
3729 6798
3789 6798
3849 6798
3909 6798
3969 6798
4029 6798
4089 6798
4149 6798
4209 6798
4269 6798
4329 6798
4389 6798
4449 6798
4509 6798
4569 6798
4629 6798
4689 6798
4749 6798
4801 6798
4901 6798
4961 6798
5021 6798
5081 6798
5141 6798
5201 6798
5261 6798
5293 6798
5353 6798
5413 6798
5473 6798
5533 6798
5593 6798
5653 6798
5713 6798
5773 6798
5833 6798
5893 6798
5953 6798
6013 6798
6073 6798
6133 6798
6193 6798
6241 6798
6301 6798
6361 6798
6421 6798
6481 6798
6541 6798
6601 6798
6661 6798
6721 6798
6781 6798
6841 6798
6901 6798
6961 6798
7021 6798
7081 6798
7141 6798
7201 6798
7261 6798
7321 6798
7381 6798
7441 6798
7501 6798
7561 6798
7621 6798
7681 6798
7741 6798
7795 6798
7823 6798
7883 6798
7943 6798
8003 6798
8063 6798
8135 6798
8195 6798
8255 6798
8315 6798
8375 6798
8435 6798
8495 6798
8555 6798
8635 6798
8695 6798
8755 6798
8795 6798
8823 6798
8883 6798
8943 6798
9003 6798
9063 6798
9123 6798
9183 6798
9255 6798
9295 6798
9355 6798
9435 6798
9475 6798
9535 6798
9583 6798
9675 6798
9735 6798
9795 6798
9847 6798
0 6799
60 6799
120 6799
180 6799
248 6799
308 6799
368 6799
448 6799
556 6799
616 6799
676 6799
736 6799
796 6799
856 6799
916 6799
976 6799
1036 6799
1096 6799
1156 6799
1228 6799
1276 6799
1336 6799
1396 6799
1456 6799
1516 6799
1576 6799
1636 6799
1696 6799
1756 6799
1816 6799
1876 6799
1936 6799
1996 6799
2056 6799
2116 6799
2176 6799
2236 6799
2296 6799
2356 6799
2416 6799
2476 6799
2536 6799
2596 6799
2656 6799
2716 6799
2776 6799
2836 6799
2888 6799
2916 6799
2976 6799
3048 6799
3100 6799
3160 6799
3221 6799
3281 6799
3341 6799
3401 6799
3461 6799
3521 6799
3581 6799
3641 6799
3701 6799
3761 6799
3821 6799
3881 6799
3941 6799
4001 6799
4061 6799
4101 6799
4161 6799
4221 6799
4281 6799
4361 6799
4401 6799
4461 6799
4521 6799
4581 6799
4641 6799
4701 6799
4781 6799
4821 6799
4881 6799
4941 6799
5001 6799
5061 6799
5121 6799
5181 6799
5221 6799
5281 6799
5361 6799
5421 6799
5501 6799
5561 6799
5621 6799
5641 6799
5701 6799
5761 6799
5821 6799
5881 6799
5941 6799
6001 6799
6061 6799
6121 6799
6181 6799
6241 6799
6321 6799
6401 6799
6461 6799
6521 6799
6581 6799
6641 6799
6701 6799
6761 6799
6821 6799
6881 6799
6941 6799
7001 6799
7061 6799
7121 6799
7215 6799
7255 6799
7315 6799
7375 6799
7435 6799
7495 6799
7555 6799
7615 6799
7675 6799
7735 6799
7795 6799
7855 6799
7895 6799
7955 6799
8015 6799
8075 6799
8135 6799
8215 6799
8255 6799
8315 6799
8375 6799
8435 6799
8495 6799
8555 6799
8615 6799
8675 6799
8735 6799
8795 6799
8855 6799
8915 6799
8975 6799
9035 6799
9095 6799
9155 6799
9215 6799
9275 6799
9335 6799
9415 6799
9447 6799
9507 6799
9567 6799
9627 6799
9687 6799
9747 6799
9807 6799
9850 6799
0 6800
60 6800
120 6800
180 6800
241 6800
269 6800
329 6800
389 6800
449 6800
509 6800
569 6800
629 6800
689 6800
749 6800
809 6800
869 6800
929 6800
989 6800
1049 6800
1097 6800
1157 6800
1217 6800
1277 6800
1349 6800
1369 6800
1421 6800
1477 6800
1537 6800
1597 6800
1657 6800
1717 6800
1777 6800
1837 6800
1897 6800
1957 6800
2009 6800
2037 6800
2097 6800
2157 6800
2217 6800
2289 6800
2349 6800
2409 6800
2469 6800
2509 6800
2541 6800
2601 6800
2661 6800
2721 6800
2769 6800
2809 6800
2869 6800
2929 6800
3029 6800
3094 6800
3202 6800
3262 6800
3341 6800
3401 6800
3461 6800
3481 6800
3541 6800
3601 6800
3661 6800
3721 6800
3801 6800
3841 6800
3901 6800
3989 6800
4041 6800
4093 6800
4153 6800
4213 6800
4281 6800
4361 6800
4421 6800
4481 6800
4541 6800
4601 6800
4661 6800
4721 6800
4781 6800
4841 6800
4901 6800
4961 6800
5021 6800
5081 6800
5141 6800
5201 6800
5261 6800
5321 6800
5381 6800
5441 6800
5501 6800
5561 6800
5621 6800
5681 6800
5781 6800
5841 6800
5909 6800
5969 6800
6029 6800
6089 6800
6149 6800
6209 6800
6261 6800
6401 6800
6461 6800
6521 6800
6581 6800
6663 6800
6715 6800
6775 6800
6835 6800
6895 6800
6955 6800
7015 6800
7075 6800
7135 6800
7195 6800
7255 6800
7315 6800
7375 6800
7435 6800
7495 6800
7575 6800
7635 6800
7695 6800
7755 6800
7863 6800
7903 6800
7963 6800
8023 6800
8083 6800
8143 6800
8203 6800
8263 6800
8323 6800
8383 6800
8443 6800
8503 6800
8563 6800
8623 6800
8683 6800
8743 6800
8803 6800
8863 6800
8923 6800
8983 6800
9043 6800
9103 6800
9163 6800
9223 6800
9283 6800
9343 6800
9403 6800
9463 6800
9527 6800
9575 6800
9635 6800
9695 6800
9755 6800
9795 6800
9847 6800
28 6801
88 6801
116 6801
176 6801
236 6801
296 6801
356 6801
416 6801
476 6801
536 6801
608 6801
648 6801
708 6801
768 6801
828 6801
888 6801
948 6801
1028 6801
1088 6801
1148 6801
1208 6801
1268 6801
1428 6801
1528 6801
1596 6801
1656 6801
1716 6801
1788 6801
1860 6801
1920 6801
1980 6801
2040 6801
2100 6801
2160 6801
2220 6801
2280 6801
2340 6801
2448 6801
2520 6801
2588 6801
2648 6801
2708 6801
2768 6801
2828 6801
2888 6801
2948 6801
3008 6801
3068 6801
3128 6801
3190 6801
3221 6801
3281 6801
3341 6801
3401 6801
3461 6801
3521 6801
3601 6801
3641 6801
3721 6801
3741 6801
3801 6801
3861 6801
3921 6801
3981 6801
4041 6801
4101 6801
4161 6801
4221 6801
4301 6801
4361 6801
4421 6801
4481 6801
4541 6801
4601 6801
4661 6801
4721 6801
4761 6801
4821 6801
4881 6801
4981 6801
5001 6801
5061 6801
5121 6801
5201 6801
5241 6801
5301 6801
5361 6801
5421 6801
5481 6801
5541 6801
5621 6801
5749 6801
5821 6801
5881 6801
5941 6801
6001 6801
6041 6801
6101 6801
6141 6801
6201 6801
6261 6801
6341 6801
6381 6801
6441 6801
6501 6801
6561 6801
6621 6801
6695 6801
6755 6801
6863 6801
6895 6801
6955 6801
7015 6801
7075 6801
7115 6801
7175 6801
7235 6801
7327 6801
7387 6801
7447 6801
7507 6801
7567 6801
7627 6801
7687 6801
7755 6801
7835 6801
7895 6801
7955 6801
8015 6801
8075 6801
8167 6801
8255 6801
8315 6801
8395 6801
8435 6801
8495 6801
8555 6801
8603 6801
8687 6801
8763 6801
8835 6801
8895 6801
8955 6801
9015 6801
9055 6801
9103 6801
9155 6801
9215 6801
9303 6801
9343 6801
9403 6801
9475 6801
9555 6801
9615 6801
9675 6801
9735 6801
9795 6801
9850 6801
8 6802
68 6802
128 6802
188 6802
248 6802
308 6802
368 6802
428 6802
488 6802
548 6802
608 6802
688 6802
716 6802
776 6802
836 6802
896 6802
968 6802
1020 6802
1080 6802
1140 6802
1228 6802
1288 6802
1348 6802
1408 6802
1468 6802
1528 6802
1588 6802
1648 6802
1708 6802
1768 6802
1828 6802
1888 6802
1988 6802
2060 6802
2120 6802
2180 6802
2240 6802
2300 6802
2360 6802
2420 6802
2480 6802
2540 6802
2600 6802
2660 6802
2720 6802
2780 6802
2840 6802
2900 6802
2960 6802
3020 6802
3080 6802
3140 6802
3200 6802
3261 6802
3321 6802
3361 6802
3421 6802
3469 6802
3529 6802
3589 6802
3649 6802
3741 6802
3781 6802
3841 6802
3901 6802
3961 6802
4021 6802
4081 6802
4141 6802
4201 6802
4261 6802
4321 6802
4381 6802
4441 6802
4501 6802
4561 6802
4621 6802
4733 6802
4789 6802
4849 6802
4909 6802
4981 6802
5053 6802
5121 6802
5181 6802
5241 6802
5301 6802
5381 6802
5421 6802
5481 6802
5541 6802
5601 6802
5661 6802
5721 6802
5781 6802
5841 6802
5901 6802
5961 6802
6021 6802
6081 6802
6141 6802
6181 6802
6241 6802
6301 6802
6361 6802
6421 6802
6481 6802
6541 6802
6601 6802
6661 6802
6721 6802
6781 6802
6841 6802
6901 6802
6961 6802
7021 6802
7081 6802
7141 6802
7201 6802
7261 6802
7321 6802
7381 6802
7435 6802
7463 6802
7523 6802
7583 6802
7643 6802
7703 6802
7763 6802
7823 6802
7883 6802
7943 6802
8003 6802
8063 6802
8123 6802
8183 6802
8243 6802
8303 6802
8363 6802
8423 6802
8483 6802
8543 6802
8603 6802
8663 6802
8715 6802
8755 6802
8815 6802
8875 6802
8935 6802
8995 6802
9055 6802
9115 6802
9175 6802
9235 6802
9295 6802
9355 6802
9415 6802
9495 6802
9555 6802
9615 6802
9675 6802
9735 6802
9795 6802
9835 6802
68 6803
156 6803
216 6803
316 6803
380 6803
448 6803
508 6803
580 6803
628 6803
688 6803
756 6803
848 6803
908 6803
968 6803
1028 6803
1088 6803
1148 6803
1208 6803
1268 6803
1348 6803
1368 6803
1428 6803
1488 6803
1548 6803
1648 6803
1688 6803
1748 6803
1808 6803
1888 6803
2016 6803
2096 6803
2156 6803
2216 6803
2276 6803
2336 6803
2396 6803
2456 6803
2516 6803
2576 6803
2668 6803
2688 6803
2748 6803
2808 6803
2868 6803
2928 6803
2988 6803
3048 6803
3108 6803
3168 6803
3221 6803
3281 6803
3341 6803
3401 6803
3461 6803
3521 6803
3581 6803
3641 6803
3701 6803
3761 6803
3821 6803
3933 6803
3981 6803
4081 6803
4161 6803
4221 6803
4281 6803
4341 6803
4401 6803
4461 6803
4521 6803
4581 6803
4641 6803
4701 6803
4761 6803
4821 6803
4909 6803
5021 6803
5081 6803
5141 6803
5201 6803
5261 6803
5321 6803
5381 6803
5441 6803
5521 6803
5581 6803
5641 6803
5701 6803
5801 6803
5821 6803
5881 6803
5941 6803
6001 6803
6061 6803
6121 6803
6181 6803
6241 6803
6321 6803
6401 6803
6481 6803
6561 6803
6641 6803
6695 6803
6775 6803
6835 6803
6915 6803
6995 6803
7055 6803
7115 6803
7175 6803
7235 6803
7295 6803
7355 6803
7395 6803
7455 6803
7515 6803
7555 6803
7615 6803
7675 6803
7775 6803
7815 6803
7875 6803
7935 6803
8055 6803
8095 6803
8195 6803
8247 6803
8335 6803
8395 6803
8455 6803
8515 6803
8575 6803
8635 6803
8695 6803
8755 6803
8815 6803
8875 6803
8935 6803
8995 6803
9055 6803
9135 6803
9223 6803
9303 6803
9355 6803
9415 6803
9475 6803
9535 6803
9595 6803
9655 6803
9715 6803
9755 6803
9815 6803
9850 6803
160 6804
228 6804
288 6804
348 6804
408 6804
468 6804
528 6804
588 6804
668 6804
716 6804
776 6804
848 6804
868 6804
928 6804
988 6804
1048 6804
1100 6804
1140 6804
1240 6804
1308 6804
1368 6804
1428 6804
1488 6804
1548 6804
1608 6804
1668 6804
1728 6804
1828 6804
1928 6804
1988 6804
2048 6804
2108 6804
2168 6804
2228 6804
2288 6804
2348 6804
2408 6804
2468 6804
2528 6804
2588 6804
2648 6804
2748 6804
2808 6804
2868 6804
2928 6804
2988 6804
3048 6804
3108 6804
3168 6804
3228 6804
3288 6804
3348 6804
3421 6804
3509 6804
3569 6804
3629 6804
3689 6804
3749 6804
3800 6804
3841 6804
3901 6804
3961 6804
4021 6804
4081 6804
4141 6804
4221 6804
4273 6804
4361 6804
4421 6804
4481 6804
4541 6804
4601 6804
4661 6804
4721 6804
4781 6804
4841 6804
4901 6804
5081 6804
5120 6804
5161 6804
5209 6804
5269 6804
5341 6804
5401 6804
5461 6804
5500 6804
5541 6804
5701 6804
5761 6804
5821 6804
5881 6804
5941 6804
6001 6804
6061 6804
6121 6804
6181 6804
6241 6804
6301 6804
6361 6804
6421 6804
6481 6804
6581 6804
6635 6804
6735 6804
6795 6804
6855 6804
6915 6804
6975 6804
7035 6804
7095 6804
7155 6804
7215 6804
7263 6804
7323 6804
7383 6804
7443 6804
7500 6804
7555 6804
7627 6804
7707 6804
7815 6804
7927 6804
7987 6804
8047 6804
8107 6804
8145 6804
8183 6804
8315 6804
8455 6804
8515 6804
8575 6804
8615 6804
8655 6804
8735 6804
8795 6804
8855 6804
8915 6804
8975 6804
9035 6804
9075 6804
9115 6804
9195 6804
9255 6804
9315 6804
9375 6804
9435 6804
9495 6804
9555 6804
9615 6804
9675 6804
9735 6804
9823 6804
28 6805
88 6805
148 6805
208 6805
258 6805
308 6805
388 6805
448 6805
498 6805
548 6805
608 6805
668 6805
728 6805
788 6805
848 6805
908 6805
968 6805
1028 6805
1088 6805
1148 6805
1198 6805
1248 6805
1328 6805
1388 6805
1448 6805
1508 6805
1548 6805
1620 6805
1688 6805
1728 6805
1768 6805
1888 6805
1928 6805
1968 6805
2048 6805
2088 6805
2128 6805
2228 6805
2288 6805
2348 6805
2408 6805
2468 6805
2528 6805
2588 6805
2648 6805
2708 6805
2768 6805
2848 6805
2908 6805
2968 6805
3028 6805
3088 6805
3148 6805
3208 6805
3258 6805
3308 6805
3389 6805
3441 6805
3501 6805
3561 6805
3621 6805
3681 6805
3721 6805
3761 6805
3861 6805
3921 6805
3981 6805
4041 6805
4101 6805
4161 6805
4211 6805
4261 6805
4321 6805
4371 6805
4421 6805
4561 6805
4649 6805
4733 6805
4789 6805
4901 6805
4961 6805
5021 6805
5081 6805
5141 6805
5201 6805
5261 6805
5301 6805
5341 6805
5401 6805
5461 6805
5521 6805
5581 6805
5641 6805
5701 6805
5761 6805
5821 6805
5881 6805
5941 6805
5991 6805
6041 6805
6121 6805
6181 6805
6241 6805
6301 6805
6361 6805
6421 6805
6481 6805
6541 6805
6601 6805
6661 6805
6721 6805
6781 6805
6855 6805
6875 6805
6935 6805
6990 6805
7047 6805
7095 6805
7155 6805
7215 6805
7275 6805
7335 6805
7395 6805
7455 6805
7515 6805
7575 6805
7715 6805
7735 6805
7795 6805
7855 6805
7915 6805
7975 6805
8035 6805
8095 6805
8175 6805
8215 6805
8295 6805
8355 6805
8415 6805
8475 6805
8535 6805
8635 6805
8695 6805
8755 6805
8815 6805
8875 6805
8935 6805
8975 6805
9015 6805
9075 6805
9135 6805
9255 6805
9315 6805
9375 6805
9435 6805
9480 6805
9527 6805
9595 6805
9703 6805
9763 6805
9823 6805
108 6806
167 6806
207 6806
247 6806
327 6806
367 6806
407 6806
467 6806
527 6806
587 6806
647 6806
707 6806
767 6806
817 6806
866 6806
986 6806
1106 6806
1166 6806
1226 6806
1285 6806
1345 6806
1405 6806
1465 6806
1545 6806
1605 6806
1665 6806
1725 6806
1785 6806
1845 6806
1885 6806
1924 6806
1984 6806
2044 6806
2104 6806
2164 6806
2224 6806
2283 6806
2343 6806
2383 6806
2423 6806
2503 6806
2563 6806
2623 6806
2683 6806
2733 6806
2782 6806
2810 6806
2890 6806
2962 6806
3022 6806
3082 6806
3142 6806
3202 6806
3262 6806
3321 6806
3421 6806
3513 6806
3581 6806
3641 6806
3701 6806
3761 6806
3821 6806
3871 6806
3921 6806
4001 6806
4061 6806
4121 6806
4181 6806
4321 6806
4381 6806
4461 6806
4501 6806
4561 6806
4621 6806
4681 6806
4741 6806
4801 6806
4841 6806
4881 6806
4949 6806
5133 6806
5193 6806
5253 6806
5321 6806
5369 6806
5441 6806
5621 6806
5681 6806
5741 6806
5801 6806
5861 6806
5921 6806
5981 6806
6041 6806
6101 6806
6301 6806
6361 6806
6401 6806
6441 6806
6513 6806
6613 6806
6715 6806
6775 6806
6845 6806
6915 6806
6975 6806
7055 6806
7095 6806
7155 6806
7215 6806
7275 6806
7335 6806
7395 6806
7455 6806
7515 6806
7575 6806
7635 6806
7705 6806
7775 6806
7895 6806
7955 6806
8015 6806
8075 6806
8135 6806
8195 6806
8255 6806
8315 6806
8375 6806
8435 6806
8495 6806
8555 6806
8615 6806
8675 6806
8735 6806
8795 6806
8875 6806
8935 6806
8995 6806
9055 6806
9115 6806
9175 6806
9215 6806
9255 6806
9315 6806
9423 6806
9483 6806
9555 6806
9675 6806
9755 6806
9815 6806
28 6807
68 6807
108 6807
227 6807
287 6807
347 6807
407 6807
467 6807
527 6807
587 6807
647 6807
726 6807
766 6807
826 6807
886 6807
946 6807
1006 6807
1066 6807
1110 6807
1154 6807
1225 6807
1285 6807
1345 6807
1405 6807
1465 6807
1525 6807
1585 6807
1645 6807
1705 6807
1765 6807
1825 6807
1885 6807
1935 6807
1984 6807
2044 6807
2104 6807
2164 6807
2224 6807
2284 6807
2334 6807
2383 6807
2423 6807
2473 6807
2523 6807
2591 6807
2694 6807
2754 6807
2814 6807
2874 6807
2934 6807
2994 6807
3054 6807
3114 6807
3182 6807
3222 6807
3302 6807
3342 6807
3401 6807
3461 6807
3521 6807
3581 6807
3630 6807
3680 6807
3720 6807
3780 6807
3830 6807
3880 6807
3968 6807
4059 6807
4119 6807
4179 6807
4239 6807
4299 6807
4359 6807
4409 6807
4459 6807
4578 6807
4638 6807
4698 6807
4758 6807
4818 6807
4878 6807
4938 6807
4998 6807
5057 6807
5177 6807
5237 6807
5297 6807
5357 6807
5417 6807
5477 6807
5537 6807
5576 6807
5716 6807
5816 6807
5876 6807
5936 6807
5984 6807
6063 6807
6175 6807
6215 6807
6255 6807
6295 6807
6335 6807
6474 6807
6524 6807
6574 6807
6695 6807
6755 6807
6835 6807
6934 6807
7054 6807
7124 6807
7194 6807
7254 6807
7373 6807
7443 6807
7513 6807
7573 6807
7713 6807
7793 6807
7843 6807
7892 6807
8032 6807
8132 6807
8192 6807
8272 6807
8332 6807
8391 6807
8503 6807
8631 6807
8691 6807
8751 6807
8790 6807
8830 6807
8890 6807
8970 6807
9098 6807
9230 6807
9265 6807
9300 6807
9335 6807
9370 6807
9410 6807
9450 6807
9569 6807
9639 6807
9709 6807
16 6808
127 6808
187 6808
247 6808
297 6808
339 6808
419 6808
519 6808
587 6808
758 6808
846 6808
886 6808
926 6808
1046 6808
1106 6808
1166 6808
1226 6808
1276 6808
1325 6808
1525 6808
1585 6808
1625 6808
1665 6808
1752 6808
1896 6808
1964 6808
2064 6808
2136 6808
2223 6808
2263 6808
2303 6808
2471 6808
2531 6808
2591 6808
2651 6808
2711 6808
2782 6808
2802 6808
2852 6808
2902 6808
2952 6808
3002 6808
3102 6808
3142 6808
3182 6808
3262 6808
3302 6808
3342 6808
3421 6808
3541 6808
3620 6808
3664 6808
3708 6808
3820 6808
3880 6808
3940 6808
4020 6808
4087 6808
4267 6808
4327 6808
4379 6808
4439 6808
4550 6808
4638 6808
4686 6808
4886 6808
4978 6808
5058 6808
5145 6808
5265 6808
5329 6808
5363 6808
5397 6808
5488 6808
5576 6808
5636 6808
5696 6808
5756 6808
5806 6808
5856 6808
5908 6808
6027 6808
6103 6808
6183 6808
6435 6808
6475 6808
6515 6808
6614 6808
6654 6808
6694 6808
6744 6808
6815 6808
6914 6808
6984 6808
7054 6808
7114 6808
7182 6808
7310 6808
7493 6808
7573 6808
7653 6808
7713 6808
7773 6808
7821 6808
7901 6808
7956 6808
8012 6808
8060 6808
8160 6808
8439 6808
8543 6808
8633 6808
8731 6808
8962 6808
9226 6808
9389 6808
9457 6808
9569 6808
9609 6808
9649 6808
9709 6808
9789 6808
56 6809
260 6809
300 6809
340 6809
419 6809
519 6809
627 6809
707 6809
787 6809
906 6809
966 6809
1046 6809
1126 6809
1186 6809
1265 6809
1485 6809
1565 6809
1615 6809
1665 6809
1800 6809
1896 6809
2303 6809
2391 6809
2523 6809
2613 6809
2702 6809
2790 6809
2990 6809
3082 6809
3262 6809
3316 6809
3370 6809
3636 6809
3780 6809
3908 6809
4107 6809
4327 6809
4387 6809
4487 6809
4598 6809
4698 6809
4778 6809
4858 6809
4938 6809
5018 6809
5098 6809
5197 6809
5477 6809
5557 6809
5616 6809
5716 6809
5766 6809
5816 6809
5928 6809
6075 6809
6155 6809
6209 6809
6263 6809
6399 6809
6575 6809
6655 6809
6735 6809
6795 6809
6855 6809
6915 6809
6974 6809
7034 6809
7094 6809
7234 6809
7322 6809
7501 6809
7547 6809
7593 6809
7701 6809
7757 6809
7813 6809
8040 6809
8160 6809
8250 6809
8331 6809
8391 6809
8451 6809
8531 6809
8651 6809
8681 6809
8711 6809
8842 6809
8986 6809
9130 6809
9180 6809
9230 6809
9529 6809
9649 6809
9729 6809
9789 6809
9845 6809
52 6810
147 6810
237 6810
327 6810
387 6810
483 6810
579 6810
746 6810
846 6810
946 6810
1046 6810
1153 6810
1237 6810
1385 6810
1525 6810
1832 6810
1880 6810
2075 6810
2351 6810
2431 6810
2503 6810
2603 6810
3453 6810
3728 6810
3848 6810
4027 6810
4179 6810
4243 6810
4303 6810
4435 6810
4818 6810
5057 6810
5237 6810
5321 6810
5465 6810
5788 6810
5884 6810
5984 6810
6063 6810
6135 6810
6215 6810
6350 6810
6711 6810
6854 6810
6974 6810
7154 6810
7262 6810
7417 6810
7573 6810
7693 6810
7944 6810
8024 6810
8100 6810
8232 6810
8411 6810
8531 6810
8711 6810
8855 6810
9010 6810
9090 6810
9250 6810
9729 6810
132 6811
279 6811
399 6811
495 6811
590 6811
655 6811
710 6811
806 6811
915 6811
966 6811
1026 6811
1225 6811
1512 6811
1752 6811
1804 6811
1856 6811
2075 6811
2315 6811
2423 6811
2495 6811
2603 6811
2690 6811
2862 6811
3034 6811
3320 6811
3640 6811
3788 6811
3955 6811
4135 6811
4387 6811
4459 6811
4530 6811
4846 6811
5105 6811
5201 6811
5417 6811
5512 6811
5632 6811
5871 6811
6015 6811
6594 6811
6650 6811
6723 6811
6835 6811
6900 6811
6960 6811
7166 6811
7310 6811
7441 6811
7513 6811
7573 6811
7680 6811
7773 6811
7825 6811
7933 6811
7992 6811
8072 6811
8232 6811
8375 6811
8435 6811
8507 6811
8807 6811
8879 6811
9058 6811
9190 6811
9322 6811
9417 6811
9705 6811
96 6812
132 6812
227 6812
263 6812
383 6812
563 6812
646 6812
694 6812
742 6812
790 6812
826 6812
922 6812
1005 6812
1089 6812
1197 6812
1233 6812
1365 6812
1412 6812
1508 6812
1544 6812
1604 6812
1652 6812
1819 6812
1879 6812
2047 6812
2155 6812
2226 6812
2286 6812
2430 6812
2454 6812
2526 6812
2657 6812
2765 6812
2801 6812
2873 6812
2945 6812
3016 6812
3076 6812
3342 6812
3382 6812
3422 6812
3462 6812
3550 6812
3742 6812
3910 6812
4234 6812
4402 6812
4442 6812
4510 6812
4606 6812
4738 6812
4846 6812
4918 6812
5062 6812
5102 6812
5170 6812
5254 6812
5602 6812
5642 6812
5758 6812
5962 6812
6022 6812
6238 6812
6478 6812
6610 6812
6754 6812
6850 6812
6971 6812
7114 6812
7246 6812
7342 6812
7473 6812
7569 6812
7785 6812
7832 6812
7988 6812
8180 6812
8251 6812
8395 6812
8658 6812
9041 6812
9173 6812
9269 6812
9341 6812
9413 6812
9472 6812
9544 6812
60 6813
215 6813
359 6813
395 6813
778 6813
1017 6813
1077 6813
1341 6813
1796 6813
1915 6813
2202 6813
2418 6813
2741 6813
2813 6813
2909 6813
2945 6813
3064 6813
3442 6813
3490 6813
3562 6813
3766 6813
4102 6813
4294 6813
4654 6813
4738 6813
4906 6813
4954 6813
4990 6813
5746 6813
5998 6813
6262 6813
6310 6813
6538 6813
7018 6813
7090 6813
7773 6813
8024 6813
8108 6813
8419 6813
8838 6813
8910 6813
9293 6813
9472 6813
24 6814
168 6814
239 6814
826 6814
1101 6814
1389 6814
1999 6814
2226 6814
2538 6814
2597 6814
2633 6814
2705 6814
3064 6814
3102 6814
3152 6814
3192 6814
3382 6814
3790 6814
3838 6814
3898 6814
4258 6814
4342 6814
4546 6814
4786 6814
4858 6814
5218 6814
5398 6814
5434 6814
5686 6814
5806 6814
5842 6814
6382 6814
6454 6814
7102 6814
7258 6814
7425 6814
7521 6814
7605 6814
7653 6814
7773 6814
8191 6814
8347 6814
8395 6814
9664 6814
9831 6814
1197 6815
1580 6815
1772 6815
1927 6815
2190 6815
2250 6815
2358 6815
2693 6815
2957 6815
4150 6815
4702 6815
5662 6815
5686 6815
6418 6815
6670 6815
6718 6815
8491 6815
9448 6815
9748 6815
12 6816
371 6816
1029 6816
1353 6816
1796 6816
1915 6816
2107 6816
2214 6816
2825 6816
4078 6816
4126 6816
4498 6816
4774 6816
4990 6816
6238 6816
7473 6816
7617 6816
7749 6816
335 6817
886 6817
1377 6817
1472 6817
1903 6817
2298 6817
2346 6817
2669 6817
3178 6817
5362 6817
5662 6817
6514 6817
7006 6817
7808 6817
8383 6817
8958 6817
9484 6817
718 6818
1377 6818
2119 6818
2370 6818
2729 6818
3028 6818
3178 6818
4030 6818
4294 6818
4390 6818
4894 6818
5710 6818
5998 6818
6862 6818
7042 6818
7904 6818
8120 6818
8994 6818
9436 6818
203 6819
1281 6819
1903 6819
2202 6819
3790 6819
5542 6819
7509 6819
8838 6819
8946 6819
9353 6819
299 6820
2909 6820
4450 6820
5890 6820
6046 6820
6346 6820
7018 6820
7390 6820
7485 6820
9233 6820
4282 6821
4450 6821
7797 6821
4726 6822
7593 6822
3922 6823
8371 6823
9329 6823
4630 6824
2334 6826
};
\addlegendentry{Samples\\\textit{μ} = 6796.57, \textit{σ} = 8.02}
\end{axis}
\end{tikzpicture}
\end{document}
